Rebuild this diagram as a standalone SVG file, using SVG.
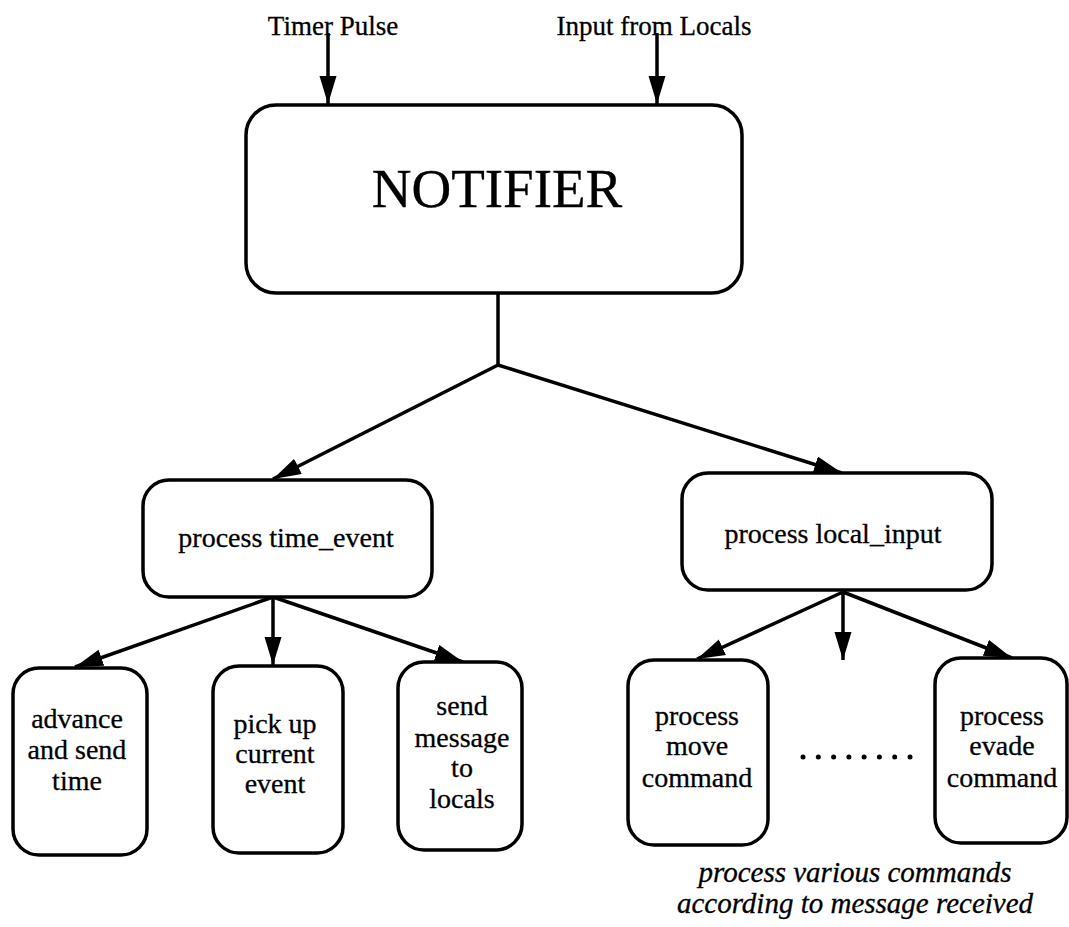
<svg xmlns="http://www.w3.org/2000/svg" width="1069" height="927" viewBox="0 0 1069 927">
<style>
.box{fill:#fff;stroke:#000;stroke-width:3.5}
.ln{fill:none;stroke:#000;stroke-width:3.5}
.t{font-family:"Liberation Serif","Times New Roman",serif;fill:#000;stroke:#000;stroke-width:0.3;text-anchor:middle}
.s{font-size:28px}
.m{font-size:28px}
.i{font-style:italic;font-size:29px}
</style>
<defs>
<marker id="ah" markerUnits="userSpaceOnUse" markerWidth="30" markerHeight="18" refX="28" refY="8.5" orient="auto">
<path d="M0,0 L28,8.5 L0,17 z" fill="#000"/>
</marker>
</defs>
<rect width="1069" height="927" fill="#fff"/>
<g id="connectors">
<line class="ln" x1="328" y1="33" x2="328" y2="104" marker-end="url(#ah)"/>
<line class="ln" x1="657" y1="33" x2="657" y2="104" marker-end="url(#ah)"/>
<polyline class="ln" points="498,292 498,365"/>
<line class="ln" x1="498" y1="365" x2="273" y2="479" marker-end="url(#ah)"/>
<line class="ln" x1="498" y1="365" x2="842" y2="473" marker-end="url(#ah)"/>
<line class="ln" x1="273" y1="597" x2="75" y2="667" marker-end="url(#ah)"/>
<line class="ln" x1="273" y1="597" x2="273" y2="665" marker-end="url(#ah)"/>
<line class="ln" x1="273" y1="597" x2="463" y2="662" marker-end="url(#ah)"/>
<line class="ln" x1="843" y1="592" x2="697" y2="659" marker-end="url(#ah)"/>
<line class="ln" x1="843" y1="592" x2="843" y2="660" marker-end="url(#ah)"/>
<line class="ln" x1="843" y1="592" x2="1012" y2="658" marker-end="url(#ah)"/>
</g>
<g id="label-timer"><text class="t" font-size="27" x="333" y="35">Timer Pulse</text></g>
<g id="label-input"><text class="t" font-size="27" x="654" y="35">Input from Locals</text></g>
<g id="notifier">
<rect class="box" x="246" y="105" width="496" height="188" rx="30" ry="30"/>
<text class="t" x="497" y="207" font-size="55">NOTIFIER</text>
</g>
<g id="time-event">
<rect class="box" x="143" y="480" width="289" height="117" rx="26" ry="26"/>
<text class="t s" x="286" y="547">process time_event</text>
</g>
<g id="local-input">
<rect class="box" x="682" y="473" width="310" height="117" rx="26" ry="26"/>
<text class="t s" x="833" y="543">process local_input</text>
</g>
<g id="advance">
<rect class="box" x="13" y="668" width="134" height="187" rx="26" ry="26"/>
<text class="t m" x="77" y="728">advance</text>
<text class="t m" x="77" y="759">and send</text>
<text class="t m" x="77" y="790">time</text>
</g>
<g id="pickup">
<rect class="box" x="213" y="666" width="130" height="187" rx="26" ry="26"/>
<text class="t m" x="275" y="733">pick up</text>
<text class="t m" x="275" y="763">current</text>
<text class="t m" x="275" y="793">event</text>
</g>
<g id="sendmsg">
<rect class="box" x="398" y="662" width="124" height="188" rx="26" ry="26"/>
<text class="t m" x="462" y="715">send</text>
<text class="t m" x="462" y="747">message</text>
<text class="t m" x="462" y="777">to</text>
<text class="t m" x="462" y="808">locals</text>
</g>
<g id="move">
<rect class="box" x="628" y="660" width="140" height="185" rx="26" ry="26"/>
<text class="t m" x="697" y="725">process</text>
<text class="t m" x="697" y="755">move</text>
<text class="t m" x="697" y="787">command</text>
</g>
<g id="evade">
<rect class="box" x="935" y="658" width="132" height="185" rx="26" ry="26"/>
<text class="t m" x="1002" y="725">process</text>
<text class="t m" x="1002" y="755">evade</text>
<text class="t m" x="1002" y="787">command</text>
</g>
<g id="dots" fill="#000">
<circle cx="803" cy="757" r="2.5"/><circle cx="818.3" cy="757" r="2.5"/><circle cx="833.6" cy="757" r="2.5"/><circle cx="848.9" cy="757" r="2.5"/><circle cx="864.1" cy="757" r="2.5"/><circle cx="879.4" cy="757" r="2.5"/><circle cx="894.7" cy="757" r="2.5"/><circle cx="910" cy="757" r="2.5"/>
</g>
<g id="caption">
<text class="t i" x="855" y="882">process various commands</text>
<text class="t i" x="855" y="913">according to message received</text>
</g>
</svg>
